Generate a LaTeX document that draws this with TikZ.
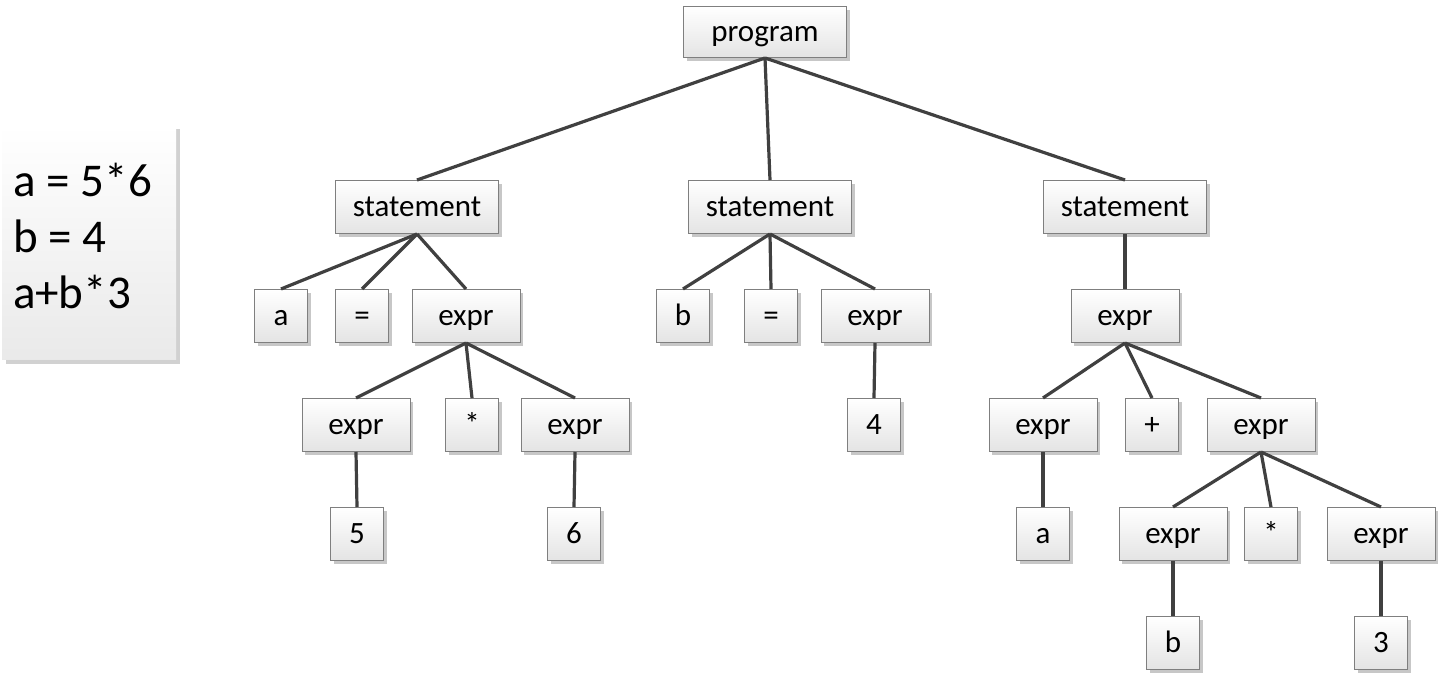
\documentclass[tikz,border=0pt]{standalone}
\usepackage{fontspec}
\setmainfont{Carlito}
\usetikzlibrary{shadows}
\definecolor{edgegray}{HTML}{404040}
\definecolor{boxline}{HTML}{7F7F7F}
\definecolor{boxfill}{HTML}{E4E4E4}
\tikzset{box/.style = {draw=boxline, line width=0.5pt, top color=white, bottom color=boxfill,
                       drop shadow={shadow xshift=1.6pt, shadow yshift=-1.6pt, opacity=0.22, fill=black},
                       minimum height=26.5pt, inner sep=0pt, text height=12.5pt, text depth=2.5pt,
                       font=\fontsize{15.5pt}{18pt}\selectfont},
         tok/.style = {box, minimum width=26.5pt},
         ex/.style = {box, minimum width=54pt},
         stm/.style = {box, minimum width=81.5pt},
         edge/.style = {draw=edgegray, line width=1.6pt}}

\begin{document}
\begin{tikzpicture}[x=0.5pt, y=-0.5pt]
      \useasboundingbox (0, 0) rectangle (1447, 683);

      \node [draw=none, top color=white, bottom color=boxfill!80,
             drop shadow={shadow xshift=2pt, shadow yshift=-2pt, opacity=0.18, fill=black},
             minimum width=87pt, minimum height=117.5pt] (sourcebox) at (89, 242.5) {};
      \node [inner sep=0pt, text width=76pt, align=left,
             font=\fontsize{23.5pt}{28pt}\selectfont] (source) at (89, 236)
            {a\hspace{-0.1em} =\hspace{-0.1em} 5*6\\b\hspace{-0.1em} =\hspace{-0.1em} 4\\a+b*3};

      \node [stm, minimum height=25.5pt] (prog) at (765, 32) {program};

      \node [stm] (st1) at (417, 207) {statement};
      \node [stm] (st2) at (770, 207) {statement};
      \node [stm] (st3) at (1125, 207) {statement};

      \node [tok] (a1) at (281, 316) {a};
      \node [tok] (eq1) at (362, 316) {=};
      \node [ex] (ex1) at (466, 316) {expr};
      \node [tok] (b1) at (683, 316) {b};
      \node [tok] (eq2) at (771, 316) {=};
      \node [ex] (ex2) at (875, 316) {expr};
      \node [ex] (ex3) at (1125, 316) {expr};

      \node [ex] (ex11) at (356, 425) {expr};
      \node [tok] (mul1) at (472, 425) {*};
      \node [ex] (ex12) at (575, 425) {expr};
      \node [tok] (four) at (874, 425) {4};
      \node [ex] (ex31) at (1043, 425) {expr};
      \node [tok] (plus) at (1152, 425) {+};
      \node [ex] (ex32) at (1261, 425) {expr};

      \node [tok] (five) at (357, 534) {5};
      \node [tok] (six) at (574, 534) {6};
      \node [tok] (a2) at (1043, 534) {a};
      \node [ex] (ex321) at (1173, 534) {expr};
      \node [tok] (mul2) at (1271, 534) {*};
      \node [ex] (ex322) at (1381, 534) {expr};

      \node [tok] (b2) at (1173, 643) {b};
      \node [tok] (three) at (1381, 643) {3};

      \draw [edge] (prog.south) -- (st1.north);
      \draw [edge] (prog.south) -- (st2.north);
      \draw [edge] (prog.south) -- (st3.north);

      \draw [edge] (st1.south) -- (a1.north);
      \draw [edge] (st1.south) -- (eq1.north);
      \draw [edge] (st1.south) -- (ex1.north);
      \draw [edge] (ex1.south) -- (ex11.north);
      \draw [edge] (ex1.south) -- (mul1.north);
      \draw [edge] (ex1.south) -- (ex12.north);
      \draw [edge] (ex11.south) -- (five.north);
      \draw [edge] (ex12.south) -- (six.north);

      \draw [edge] (st2.south) -- (b1.north);
      \draw [edge] (st2.south) -- (eq2.north);
      \draw [edge] (st2.south) -- (ex2.north);
      \draw [edge] (ex2.south) -- (four.north);

      \draw [edge] (st3.south) -- (ex3.north);
      \draw [edge] (ex3.south) -- (ex31.north);
      \draw [edge] (ex3.south) -- (plus.north);
      \draw [edge] (ex3.south) -- (ex32.north);
      \draw [edge] (ex31.south) -- (a2.north);
      \draw [edge] (ex32.south) -- (ex321.north);
      \draw [edge] (ex32.south) -- (mul2.north);
      \draw [edge] (ex32.south) -- (ex322.north);
      \draw [edge] (ex321.south) -- (b2.north);
      \draw [edge] (ex322.south) -- (three.north);
    \end{tikzpicture}
\end{document}
